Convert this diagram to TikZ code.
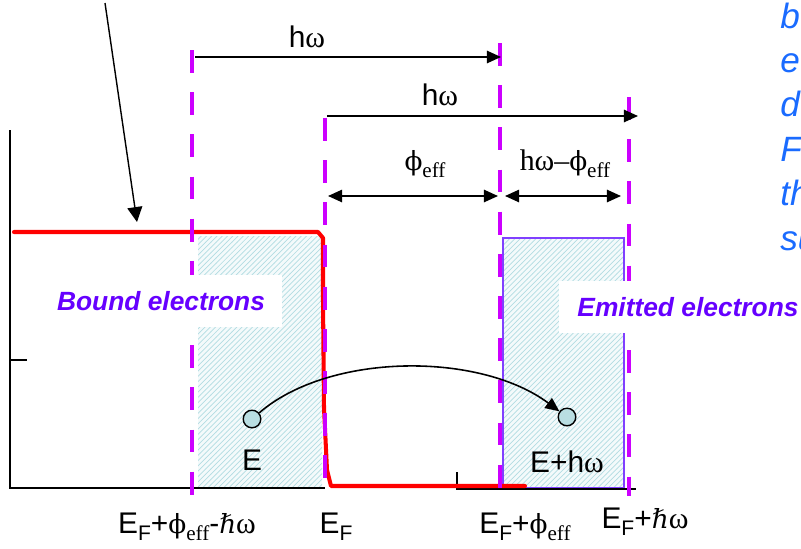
\documentclass[tikz,border=0pt]{standalone}
\usepackage{fontspec}
\setmainfont{Liberation Sans}
\newfontfamily\tms{Liberation Serif}
\newfontfamily\dvs{DejaVu Serif}
\usetikzlibrary{arrows.meta,patterns,positioning}
\definecolor{marker}{RGB}{204,0,255}
\definecolor{bandred}{RGB}{255,0,0}
\definecolor{labelviolet}{RGB}{102,0,255}
\definecolor{boxviolet}{RGB}{128,64,255}
\definecolor{hatchline}{RGB}{178,220,226}
\definecolor{hatchbg}{RGB}{244,250,251}
\definecolor{dotfill}{RGB}{185,222,226}
\definecolor{noteblue}{RGB}{26,107,255}
\newcommand{\om}{{\tms ω}}
\newcommand{\phe}{{\dvs\fontsize{15}{15}\selectfont ϕ}\raisebox{-0.45ex}{\tms\fontsize{12}{12}\selectfont eff}}
\newcommand{\EF}{E\raisebox{-0.45ex}{\fontsize{12}{12}\selectfont F}}
\newcommand{\hb}{{\dvs\fontsize{15}{15}\selectfont ℏ}}
\tikzset{
level_line/.style={dash pattern=on 13pt off 11pt, line width=2.8pt, color=marker},
dim_arrow/.style={-{Triangle[length=8pt,width=7pt]}, line width=1pt},
dim_both/.style={{Triangle[length=8pt,width=7pt]}-{Triangle[length=8pt,width=7pt]}, line width=1pt},
hatch/.style={pattern=north east lines, pattern color=hatchline},
tag/.style={font=\fontsize{17}{17}\selectfont, inner sep=1pt},
tag_box/.style={rectangle, fill=white, minimum height=29.5pt},
tag_text/.style={text=labelviolet, font=\bfseries\itshape\fontsize{15}{15}\selectfont, inner sep=0pt},
dot/.style={circle, draw, line width=0.8pt, fill=dotfill, minimum size=10pt, inner sep=0pt},
note/.style={text=noteblue, font=\itshape\fontsize{20}{20}\selectfont, inner sep=0pt, anchor=base west}
}

\begin{document}
\begin{tikzpicture}[x=0.02cm, y=-0.02cm]
    \useasboundingbox (0,0) rectangle (801,548);
    % occupied and emitted states
    \fill[hatchbg] (198,236) rectangle (322,488);
    \fill[hatch] (198,236) rectangle (322,488);
    \fill[hatchbg] (503,238) rectangle (624,488);
    \fill[hatch] (503,238) rectangle (624,488);
    \draw[boxviolet, line width=0.85pt] (503,238) rectangle (624,488);
    % axes
    \coordinate (axis_top) at (10,130);
    \coordinate (axis_origin) at (10,488);
    \coordinate (axis_end) at (325,488);
    \draw[line width=0.9pt] (axis_top) -- (axis_origin) -- (axis_end);
    \draw[line width=0.9pt] (10,360) -- (27,360);
    \coordinate (axis2_start) at (457,489);
    \coordinate (axis2_end) at (636,489);
    \draw[line width=0.9pt] (457,472) -- (axis2_start) -- (axis2_end);
    % Fermi distribution
    \draw[bandred, line width=2.3pt, line join=round, line cap=round] (14,232) -- (318,232) -- (323,238) -- (323,300)
        -- (324,408) -- (327,470) -- (331,486) -- (525,486);
    % energy levels
    \coordinate (lvl1_top) at (192,50);
    \coordinate (lvl1_bot) at (192,496);
    \coordinate (lvl2_top) at (325,118);
    \coordinate (lvl2_bot) at (325,496);
    \coordinate (lvl3_top) at (500,43);
    \coordinate (lvl3_bot) at (500,496);
    \coordinate (lvl4_top) at (629,97);
    \coordinate (lvl4_bot) at (629,496);
    \draw[level_line] (lvl1_top) -- (lvl1_bot);
    \draw[level_line] (lvl2_top) -- (lvl2_bot);
    \draw[level_line] (lvl3_top) -- (lvl3_bot);
    \draw[level_line] (lvl4_top) -- (lvl4_bot);
    % labels of the two regions
    \node[tag_box, minimum width=129pt] (bound_box) at (169,301) {};
    \node[tag_text] (bound) at (161,301) {Bound electrons};
    \node[tag_box, minimum width=147pt] (emitted_box) at (688,307) {};
    \node[tag_text] (emitted) at (688,307) {Emitted electrons};
    % photon energy and work function
    \coordinate (hw1_start) at (195,57);
    \coordinate (hw1_end) at (501,57);
    \draw[dim_arrow] (hw1_start) -- (hw1_end);
    \node[tag] (hw1) at (307,37) {h\om};
    \coordinate (hw2_start) at (327,116);
    \coordinate (hw2_end) at (638,116);
    \draw[dim_arrow] (hw2_start) -- (hw2_end);
    \node[tag] (hw2) at (440,95) {h\om};
    \coordinate (phi_start) at (328,196);
    \coordinate (phi_end) at (498,196);
    \draw[dim_both] (phi_start) -- (phi_end);
    \node[tag] (phi) at (425,164) {\phe};
    \coordinate (kin_start) at (505,196);
    \coordinate (kin_end) at (621,196);
    \draw[dim_both] (kin_start) -- (kin_end);
    \node[tag] (kin) at (565,164) {{\tms h}\om{\tms –}\phe};
    % pointer from above
    \coordinate (pointer_tail) at (105,3);
    \coordinate (pointer_head) at (137,222);
    \draw[-{Triangle[length=8.5pt,width=8.5pt]}, line width=0.8pt] (pointer_tail) -- (pointer_head);
    % excitation of one electron
    \node[dot] (e_low) at (252,419) {};
    \node[dot] (e_high) at (567,417) {};
    \draw[-{Triangle[length=8pt,width=7pt]}, line width=0.9pt] (e_low) .. controls (330,352) and (480,352) .. (e_high);
    \node[tag] (e_low_lbl) at (252,460) {E};
    \node[tag] (e_high_lbl) at (567,462) {E+h\om};
    % energy axis labels
    \node[tag] (x_low) at (187,527) {\EF+\phe-\hb\om};
    \node[tag] (x_fermi) at (336,527) {\EF};
    \node[tag] (x_vac) at (525,527) {\EF+\phe};
    \node[tag] (x_high) at (645,522) {\EF+\hb\om};
    % text cut at the right edge
    \foreach \txt [count=\i] in {b,e,d,F,th,su}
        \node[note] (note\i) at (780,{28+44.4*(\i-1)}) {\txt};
\end{tikzpicture}
\end{document}
